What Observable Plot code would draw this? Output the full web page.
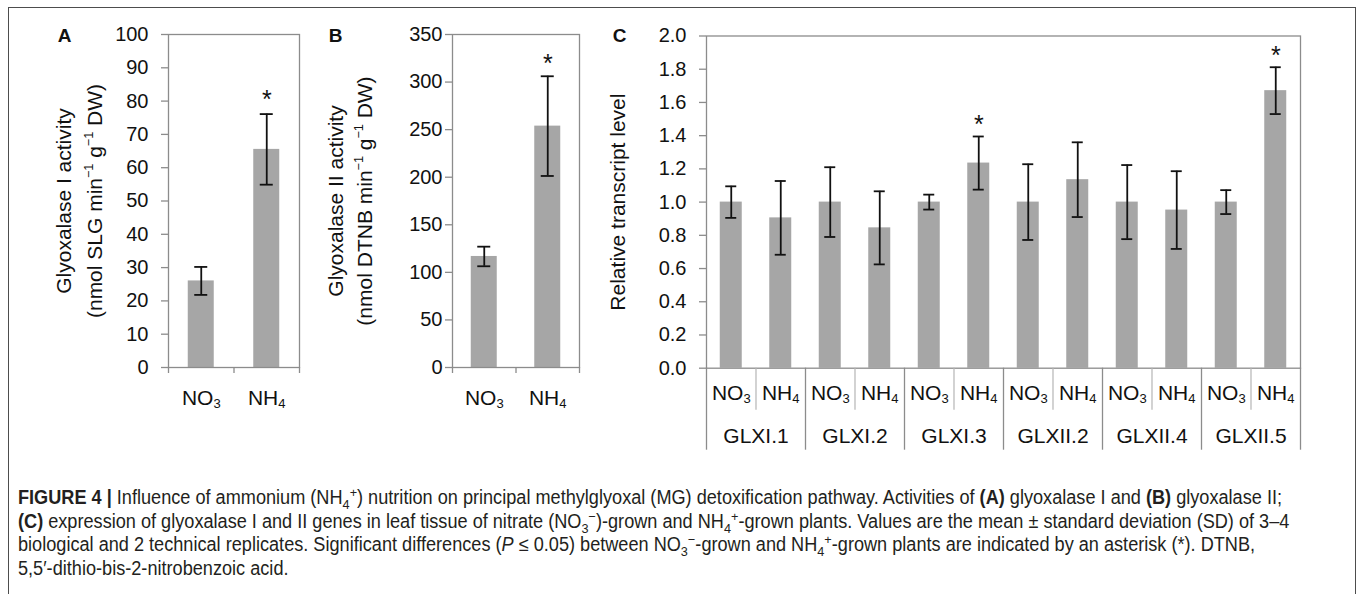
<!DOCTYPE html>
<html>
<head>
<meta charset="utf-8">
<script src="https://cdn.jsdelivr.net/npm/d3@7"></script>
<script src="https://cdn.jsdelivr.net/npm/@observablehq/plot@0.6"></script>
<style>
  body { margin: 0; background: #fff; }
  #fig { position: relative; width: 1357px; height: 594px; overflow: hidden; font-family: "Liberation Sans", Arial, sans-serif; background: #fff; }
  #border { position: absolute; left: 8px; top: 7px; width: 1348px; height: 700px; border: 1.5px solid #4d4d4d; box-sizing: border-box; }
  .panel { position: absolute; top: 0; }
  .panel svg { max-width: none; }
  #caption { position: absolute; left: 18px; top: 486px; font-family: "Liberation Sans", Arial, sans-serif; font-size: 19.5px; line-height: 23.7px; color: #231f20; white-space: nowrap; transform-origin: 0 0; }
  #caption sub, #caption sup { font-size: 0.7em; line-height: 0; }
</style>
</head>
<body>
<div id="fig">
  <div id="border"></div>
  <div class="panel" id="pA" style="left:0px"></div>
  <div class="panel" id="pB" style="left:320px"></div>
  <div class="panel" id="pC" style="left:600px"></div>
  <div id="caption">
    <span id="cap1"><b>FIGURE 4 |</b> Influence of ammonium (NH<sub>4</sub><sup>+</sup>) nutrition on principal methylglyoxal (MG) detoxification pathway. Activities of <b>(A)</b> glyoxalase I and <b>(B)</b> glyoxalase II;</span><br>
    <b>(C)</b> expression of glyoxalase I and II genes in leaf tissue of nitrate (NO<sub>3</sub><sup>−</sup>)-grown and NH<sub>4</sub><sup>+</sup>-grown plants. Values are the mean ± standard deviation (SD) of 3–4<br>
    biological and 2 technical replicates. Significant differences (<i>P</i> ≤ 0.05) between NO<sub>3</sub><sup>−</sup>-grown and NH<sub>4</sub><sup>+</sup>-grown plants are indicated by an asterisk (*). DTNB,<br>
    5,5′-dithio-bis-2-nitrobenzoic acid.
  </div>
</div>
<script>
// ---- data ----
const nitrogen = ["NO₃", "NH₄"];

const glyIMean = [26.0, 65.5];
const glyISD = [4.2, 10.6];
const glyISig = [false, true];
const glyITicks = [0, 10, 20, 30, 40, 50, 60, 70, 80, 90, 100];

const glyIIMean = [116.7, 253.7];
const glyIISD = [10.3, 52.4];
const glyIISig = [false, true];
const glyIITicks = [0, 50, 100, 150, 200, 250, 300, 350];

const genes = ["GLXI.1", "GLXI.2", "GLXI.3", "GLXII.2", "GLXII.4", "GLXII.5"];
const transcriptMean = [1.00, 0.905, 1.00, 0.845, 1.00, 1.235, 1.00, 1.135, 1.00, 0.952, 1.00, 1.671];
const transcriptSD   = [0.095, 0.222, 0.21, 0.22, 0.045, 0.16, 0.228, 0.225, 0.223, 0.234, 0.072, 0.141];
const transcriptSig  = [false, false, false, false, false, true, false, false, false, false, false, true];
const transcriptTicks = [0, 0.2, 0.4, 0.6, 0.8, 1.0, 1.2, 1.4, 1.6, 1.8, 2.0];

// ---- style ----
const BAR = "#a6a6a6";
const AXIS = "#8c8c8c";
const INK = "#111";
const FONT = "'Liberation Sans', Arial, sans-serif";
const H = 470;
const PLOT_TOP = 34;
const PLOT_BOTTOM = 367;

// turn unicode sub/superscript digits into small shifted tspans
const SUB = {"₀":"0","₁":"1","₂":"2","₃":"3","₄":"4","₅":"5","₆":"6","₇":"7","₈":"8","₉":"9"};
const SUP = {"⁻":"−","¹":"1","²":"2","³":"3"};
function fixScripts(svg) {
  const ns = "http://www.w3.org/2000/svg";
  svg.querySelectorAll("text").forEach(t => {
    if (t.querySelector("tspan")) return;
    const s = t.textContent;
    if (!/[₀-₉⁻¹²³]/.test(s)) return;
    t.textContent = "";
    let buf = "", mode = "n";
    const flush = () => {
      if (!buf) return;
      const ts = document.createElementNS(ns, "tspan");
      ts.textContent = buf;
      if (mode === "sub") { ts.setAttribute("font-size", "0.62em"); ts.setAttribute("baseline-shift", "-0.22em"); }
      if (mode === "sup") { ts.setAttribute("font-size", "0.6em"); ts.setAttribute("baseline-shift", "0.75em"); }
      t.appendChild(ts);
      buf = "";
    };
    for (const ch of s) {
      const m = SUB[ch] ? "sub" : SUP[ch] ? "sup" : "n";
      if (m !== mode) { flush(); mode = m; }
      buf += SUB[ch] || SUP[ch] || ch;
    }
    flush();
  });
  return svg;
}

function activityPanel(cfg) {
  const rows = nitrogen.map((n, i) => ({n, i, mean: cfg.means[i], sd: cfg.sds[i], sig: cfg.sig[i]}));
  const t = cfg.ticks;
  return Plot.plot({
    width: cfg.width, height: H,
    marginLeft: cfg.marginLeft, marginRight: cfg.marginRight,
    marginTop: PLOT_TOP, marginBottom: H - PLOT_BOTTOM,
    style: {fontFamily: FONT, background: "transparent", color: INK, overflow: "visible"},
    x: {type: "linear", domain: [0, nitrogen.length]},
    y: {domain: [t[0], t[t.length - 1]]},
    marks: [
      Plot.rectY(rows, {x1: "i", x2: d => d.i + 1, y1: 0, y2: "mean", fill: BAR, insetLeft: cfg.inset, insetRight: cfg.inset}),
      Plot.frame({stroke: AXIS, strokeWidth: 1.3}),
      Plot.axisY({ticks: t, tickSize: 7, tickPadding: cfg.tickPadding, stroke: AXIS, strokeWidth: 1.3, fill: INK, fontSize: 20, label: null}),
      Plot.axisX({ticks: d3.range(nitrogen.length + 1), tickSize: 6, stroke: AXIS, strokeWidth: 1.3, fill: "none", label: null}),
      Plot.axisX({ticks: rows.map(d => d.i + 0.5), tickFormat: d => nitrogen[Math.floor(d)], tickSize: 0, tickPadding: 23, fill: INK, fontSize: 21, label: null}),
      Plot.ruleX(rows, {x: d => d.i + 0.5, y1: d => d.mean - d.sd, y2: d => d.mean + d.sd, stroke: INK, strokeWidth: 1.8}),
      Plot.ruleY(rows, {x1: d => d.i + 0.5, x2: d => d.i + 0.5, y: d => d.mean - d.sd, insetLeft: -6.5, insetRight: -6.5, stroke: INK, strokeWidth: 1.8}),
      Plot.ruleY(rows, {x1: d => d.i + 0.5, x2: d => d.i + 0.5, y: d => d.mean + d.sd, insetLeft: -6.5, insetRight: -6.5, stroke: INK, strokeWidth: 1.8}),
      Plot.text(rows.filter(d => d.sig), {x: d => d.i + 0.5, y: d => d.mean + d.sd, text: () => "*", dy: cfg.starDy, fontSize: 25, fill: INK}),
      Plot.text([cfg.title1], {frameAnchor: "left", textAnchor: "middle", rotate: -90, dx: cfg.titleDx1, fontSize: 21, fill: INK}),
      Plot.text([cfg.title2], {frameAnchor: "left", textAnchor: "middle", rotate: -90, dx: cfg.titleDx2, fontSize: 21, fill: INK}),
      Plot.text([cfg.letter], {frameAnchor: "top-left", textAnchor: "middle", lineAnchor: "middle", dx: cfg.letterDx, dy: 1, fontSize: 19, fontWeight: "bold", fill: INK})
    ]
  });
}

document.getElementById("pA").append(fixScripts(activityPanel({
  means: glyIMean, sds: glyISD, sig: glyISig, ticks: glyITicks,
  width: 320, marginLeft: 168, marginRight: 21, inset: 19.75, tickPadding: 13, starDy: -14,
  title1: "Glyoxalase I activity", title2: "(nmol SLG min⁻¹ g⁻¹ DW)", titleDx1: -104.5, titleDx2: -73,
  letter: "A", letterDx: -104
})));

document.getElementById("pB").append(fixScripts(activityPanel({
  means: glyIIMean, sds: glyIISD, sig: glyIISig, ticks: glyIITicks,
  width: 280, marginLeft: 132, marginRight: 21, inset: 18.75, tickPadding: 3, starDy: -12,
  title1: "Glyoxalase II activity", title2: "(nmol DTNB min⁻¹ g⁻¹ DW)", titleDx1: -116, titleDx2: -87,
  letter: "B", letterDx: -117
})));

// Panel C
const rowsC = transcriptMean.map((m, i) => ({i, n: nitrogen[i % 2], gene: genes[Math.floor(i / 2)], mean: m, sd: transcriptSD[i], sig: transcriptSig[i]}));
const nC = rowsC.length;
const plotC = Plot.plot({
  width: 757, height: H,
  marginLeft: 106, marginRight: 57,
  marginTop: PLOT_TOP + 1.5, marginBottom: H - PLOT_BOTTOM - 0.7,
  style: {fontFamily: FONT, background: "transparent", color: INK, overflow: "visible"},
  x: {type: "linear", domain: [0, nC]},
  y: {domain: [transcriptTicks[0], transcriptTicks[transcriptTicks.length - 1]]},
  marks: [
    Plot.rectY(rowsC, {x1: "i", x2: d => d.i + 1, y1: 0, y2: "mean", fill: BAR, insetLeft: 13.75, insetRight: 13.75}),
    Plot.frame({stroke: AXIS, strokeWidth: 1.3}),
    Plot.axisY({ticks: transcriptTicks, tickSize: 7, tickPadding: 13, tickFormat: d3.format(".1f"), stroke: AXIS, strokeWidth: 1.3, fill: INK, fontSize: 20, label: null}),
    // separators between NO3 and NH4 within a gene
    Plot.axisX({ticks: d3.range(1, nC, 2), tickSize: 42, stroke: "#b5b5b5", strokeWidth: 1.2, fill: "none", label: null}),
    // separators between genes
    Plot.axisX({ticks: d3.range(0, nC + 1, 2), tickSize: 82, stroke: AXIS, strokeWidth: 1.3, fill: "none", label: null}),
    Plot.axisX({ticks: rowsC.map(d => d.i + 0.5), tickFormat: d => nitrogen[Math.floor(d) % 2], tickSize: 0, tickPadding: 17, fill: INK, fontSize: 21, label: null}),
    Plot.axisX({ticks: genes.map((g, k) => 2 * k + 1), tickFormat: d => genes[(d - 1) / 2], tickSize: 0, tickPadding: 60, fill: INK, fontSize: 21, label: null}),
    Plot.ruleX(rowsC, {x: d => d.i + 0.5, y1: d => d.mean - d.sd, y2: d => d.mean + d.sd, stroke: INK, strokeWidth: 1.8}),
    Plot.ruleY(rowsC, {x1: d => d.i + 0.5, x2: d => d.i + 0.5, y: d => d.mean - d.sd, insetLeft: -5.5, insetRight: -5.5, stroke: INK, strokeWidth: 1.8}),
    Plot.ruleY(rowsC, {x1: d => d.i + 0.5, x2: d => d.i + 0.5, y: d => d.mean + d.sd, insetLeft: -5.5, insetRight: -5.5, stroke: INK, strokeWidth: 1.8}),
    Plot.text(rowsC.filter(d => d.sig), {x: d => d.i + 0.5, y: d => d.mean + d.sd, text: () => "*", dy: -11, fontSize: 25, fill: INK}),
    Plot.text(["Relative transcript level"], {frameAnchor: "left", textAnchor: "middle", rotate: -90, dx: -88, fontSize: 21, fill: INK}),
    Plot.text(["C"], {frameAnchor: "top-left", textAnchor: "middle", lineAnchor: "middle", dx: -87, dy: -0.5, fontSize: 19, fontWeight: "bold", fill: INK})
  ]
});
document.getElementById("pC").append(fixScripts(plotC));

// condense caption horizontally to the reference's line width
const cap = document.getElementById("caption");
const w1 = document.getElementById("cap1").getBoundingClientRect().width;
cap.style.transform = `scaleX(${1264 / w1})`;
</script>
</body>
</html>
